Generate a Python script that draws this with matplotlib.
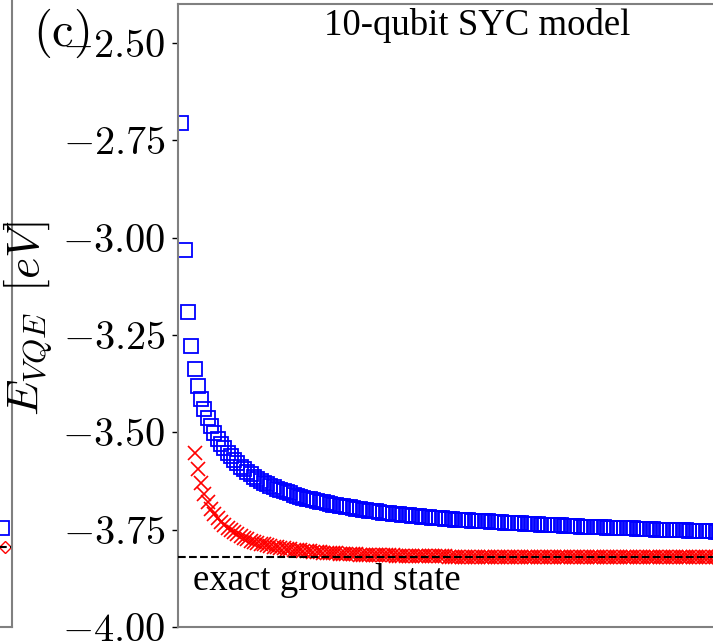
import matplotlib
matplotlib.use('Agg')
import matplotlib.pyplot as plt

# fonts: Times-like text, Computer Modern for math
plt.rcParams['font.family'] = 'serif'
plt.rcParams['font.serif'] = ['Liberation Serif', 'DejaVu Serif']
plt.rcParams['mathtext.fontset'] = 'cm'

# VQE energies per iteration
e_blue = [
    -2.706, -3.032, -3.191, -3.278, -3.337, -3.381, -3.414, -3.441, -3.464, -3.484,
    -3.501, -3.516, -3.529, -3.541, -3.552, -3.562, -3.571, -3.580, -3.588, -3.595,
    -3.602, -3.608, -3.614, -3.619, -3.624, -3.629, -3.633, -3.637, -3.641, -3.645,
    -3.648, -3.651, -3.654, -3.657, -3.660, -3.663, -3.665, -3.668, -3.670, -3.672,
    -3.674, -3.676, -3.678, -3.680, -3.682, -3.684, -3.686, -3.687, -3.689, -3.690,
    -3.692, -3.693, -3.695, -3.696, -3.697, -3.699, -3.700, -3.701, -3.702, -3.703,
    -3.705, -3.706, -3.707, -3.708, -3.709, -3.710, -3.711, -3.712, -3.713, -3.713,
    -3.714, -3.715, -3.716, -3.717, -3.717, -3.718, -3.719, -3.720, -3.720, -3.721,
    -3.722, -3.722, -3.723, -3.724, -3.724, -3.725, -3.725, -3.726, -3.727, -3.727,
    -3.728, -3.728, -3.729, -3.729, -3.730, -3.730, -3.731, -3.731, -3.732, -3.732,
    -3.733, -3.733, -3.734, -3.734, -3.735, -3.735, -3.736, -3.736, -3.736, -3.737,
    -3.737, -3.738, -3.738, -3.739, -3.739, -3.739, -3.740, -3.740, -3.741, -3.741,
    -3.741, -3.742, -3.742, -3.742, -3.743, -3.743, -3.744, -3.744, -3.744, -3.745,
    -3.745, -3.745, -3.746, -3.746, -3.746, -3.747, -3.747, -3.747, -3.748, -3.748,
    -3.748, -3.749, -3.749, -3.749, -3.750, -3.750, -3.750, -3.751, -3.751, -3.751,
    -3.751, -3.752, -3.752, -3.752, -3.753, -3.753, -3.753, -3.753, -3.754, -3.754,
    -3.754, -3.754, -3.755, -3.755, -3.755,
]
red_start = 5
e_red = [
    -3.552, -3.595, -3.630, -3.658, -3.680, -3.697, -3.710, -3.721, -3.731, -3.739,
    -3.746, -3.752, -3.757, -3.762, -3.767, -3.771, -3.775, -3.778, -3.781, -3.784,
    -3.786, -3.788, -3.790, -3.792, -3.794, -3.795, -3.797, -3.798, -3.799, -3.800,
    -3.801, -3.802, -3.803, -3.804, -3.805, -3.806, -3.807, -3.807, -3.808, -3.809,
    -3.810, -3.810, -3.811, -3.811, -3.812, -3.812, -3.812, -3.813, -3.813, -3.813,
    -3.814, -3.814, -3.814, -3.815, -3.815, -3.815, -3.815, -3.816, -3.816, -3.816,
    -3.816, -3.817, -3.817, -3.817, -3.817, -3.817, -3.818, -3.818, -3.818, -3.818,
    -3.818, -3.818, -3.818, -3.818, -3.818, -3.818, -3.818, -3.819, -3.819, -3.819,
    -3.819, -3.819, -3.819, -3.819, -3.819, -3.819, -3.819, -3.819, -3.819, -3.819,
    -3.819, -3.819, -3.819, -3.819, -3.819, -3.819, -3.819, -3.819, -3.819, -3.819,
    -3.819, -3.819, -3.819, -3.819, -3.819, -3.819, -3.819, -3.819, -3.819, -3.819,
    -3.819, -3.819, -3.819, -3.819, -3.819, -3.819, -3.820, -3.820, -3.820, -3.820,
    -3.820, -3.820, -3.820, -3.820, -3.820, -3.820, -3.820, -3.820, -3.820, -3.820,
    -3.820, -3.820, -3.820, -3.820, -3.820, -3.820, -3.820, -3.820, -3.820, -3.820,
    -3.820, -3.820, -3.820, -3.820, -3.820, -3.820, -3.820, -3.820, -3.820, -3.820,
    -3.820, -3.820, -3.820, -3.820, -3.820, -3.820, -3.820, -3.820, -3.820, -3.820,
    -3.820,
]
e_exact = -3.820

yticks = [-2.50, -2.75, -3.00, -3.25, -3.50, -3.75, -4.00]
ytick_labels = [r'$-2.50$', r'$-2.75$', r'$-3.00$', r'$-3.25$',
                r'$-3.50$', r'$-3.75$', r'$-4.00$']

# tail end of the neighbouring panel (b), cut by the left edge
prev_x_blue = [90]
prev_e_blue = [-3.746]
prev_x_red = [93]
prev_e_red = [-3.795]
prev_exact = -3.795

iters_blue = list(range(1, len(e_blue) + 1))
iters_red = list(range(red_start, red_start + len(e_red)))

W, H = 713, 644
fig = plt.figure(figsize=(W / 100, H / 100), dpi=100)

spine_col = '#808080'

# neighbouring panel, only its right edge is visible
ax0 = fig.add_axes([-88 / W, 17 / H, 100 / W, 700 / H])
ax0.plot(prev_x_blue, prev_e_blue, 's', ms=9.5, mfc='none', mec='blue', mew=1.3)
ax0.plot(prev_x_red, prev_e_red, 'D', ms=6, mfc='none', mec='red', mew=1.0)
ax0.axhline(prev_exact, color='black', ls='--', lw=1.5)
ax0.set_xlim(0, 100)
ax0.set_ylim(-4.0, -2.2)
ax0.set_xticks([])
ax0.set_yticks([])
for s in ax0.spines.values():
    s.set_color(spine_col)
    s.set_linewidth(1.5)

# main panel (c), right side runs past the figure edge
ax = fig.add_axes([178 / W, 17 / H, 660 / W, 623 / H])
ax.plot(iters_blue, e_blue, 's', ms=9.5, mfc='none', mec='blue', mew=1.3)
ax.plot(iters_red, e_red, 'x', ms=9.5, color='red', mew=1.2)
ax.axhline(e_exact, color='black', ls='--', lw=1.5, zorder=5)

ax.set_xlim(0, 200)
ax.set_ylim(-4.0, -2.4)
ax.set_xticks([])
ax.set_yticks(yticks)
ax.set_yticklabels(ytick_labels)
ax.tick_params(axis='y', labelsize=29, length=4, width=1, pad=5)
for s in ax.spines.values():
    s.set_color(spine_col)
    s.set_linewidth(1.5)

ax.set_ylabel(r'$E_{VQE}\enspace[eV]$', fontsize=33)
ax.yaxis.set_label_coords(-0.186, 0.496)

fig.text(477.5 / W, 1 - 35 / H, '10-qubit SYC model', ha='center',
         va='baseline', fontsize=26.5)
fig.text(193 / W, 1 - 590 / H, 'exact ground state', ha='left',
         va='baseline', fontsize=26.5)
fig.text(33 / W, 1 - 33 / H, r'$\mathrm{(c)}$', ha='left', va='center',
         fontsize=35)

fig.savefig('out.png', dpi=100)
